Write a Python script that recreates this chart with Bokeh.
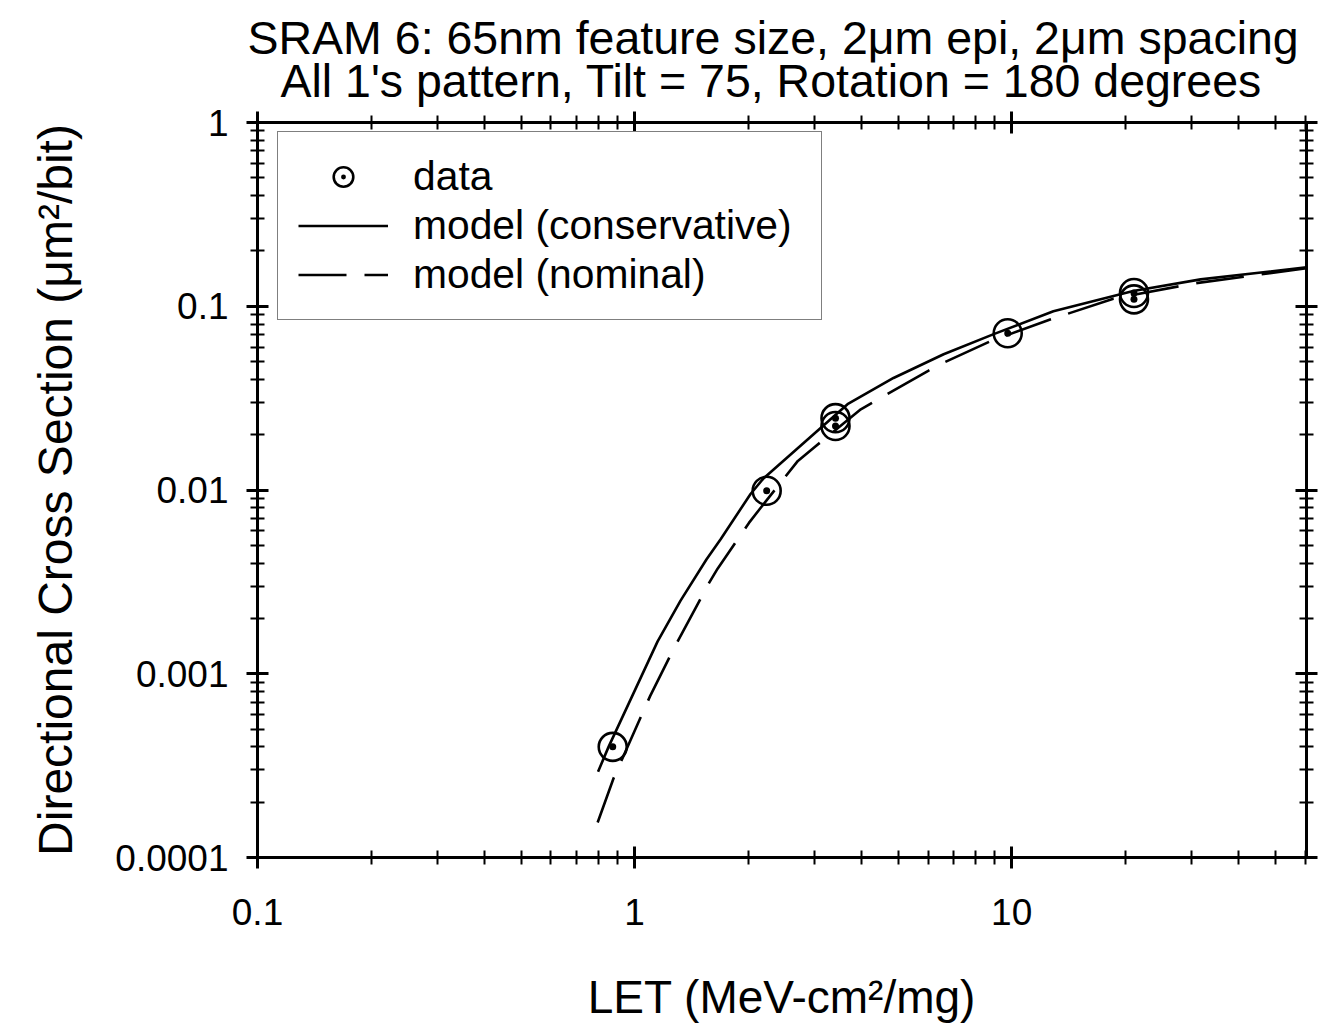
from bokeh.plotting import figure
from bokeh.models import (LogAxis, FixedTicker, Legend, LegendItem, Range1d,
                          CustomJSTickFormatter, Title)
from bokeh.embed import file_html
from bokeh.resources import INLINE

# ---- data ----
let_data = [0.875, 2.24, 3.41, 3.41, 9.76, 21.1, 21.1]
xs_data = [0.0004, 0.0099, 0.0246, 0.0223, 0.0713, 0.118, 0.109]

cons_let = [0.80, 0.853, 1.151, 1.324, 1.552, 1.691, 2.03, 2.20, 3.67,
            4.86, 6.60, 8.96, 12.9, 21.0, 31.7, 60.5]
cons_xs = [2.93e-4, 4.0e-4, 1.50e-3, 2.50e-3, 4.20e-3, 5.40e-3, 9.51e-3,
           0.0116, 0.0293, 0.0407, 0.0548, 0.0705, 0.0940, 0.121,
           0.140, 0.163]

nom_let = [0.798, 0.879, 1.10, 1.27, 1.57, 1.66, 2.01, 2.16, 2.71, 3.02, 3.98,
           4.44, 5.99, 6.56, 8.80, 12.7, 18.6, 30.4, 45.8, 60.5]
nom_xs = [1.55e-4, 2.69e-4, 7.58e-4, 1.37e-3, 3.08e-3, 3.73e-3, 6.62e-3,
          8.0e-3, 0.0144, 0.0173, 0.0275, 0.0313, 0.0444, 0.0490, 0.0646,
          0.0849, 0.110, 0.133, 0.149, 0.161]

x_major = [0.1, 1, 10]
x_major_labels = ["0.1", "1", "10"]
x_minor = [0.2, 0.3, 0.4, 0.5, 0.6, 0.7, 0.8, 0.9,
           2, 3, 4, 5, 6, 7, 8, 9, 20, 30, 40, 50, 60]
y_major = [0.0001, 0.001, 0.01, 0.1, 1]
y_major_labels = ["0.0001", "0.001", "0.01", "0.1", "1"]
y_minor = [m * d for d in [0.0001, 0.001, 0.01, 0.1] for m in [2, 3, 4, 5, 6, 7, 8, 9]]

title_lines = ["SRAM 6: 65nm feature size, 2\u03bcm epi, 2\u03bcm spacing",
               "All 1's pattern, Tilt = 75, Rotation = 180 degrees"]
x_label = "LET (MeV-cm\u00b2/mg)"
y_label = "Directional Cross Section (\u03bcm\u00b2/bit)"
legend_labels = ["data", "model (conservative)", "model (nominal)"]

FONT = "Liberation Sans"

p = figure(width=1318, height=1028, x_axis_type="log", y_axis_type="log",
           x_range=Range1d(0.1, 60.5), y_range=Range1d(1e-4, 1),
           output_backend="svg", toolbar_location=None,
           min_border_left=257, min_border_right=12,
           min_border_top=122, min_border_bottom=171)
p.grid.visible = False
p.outline_line_color = None
p.background_fill_color = "white"
p.border_fill_color = "white"
p.title.visible = False

bottom_ax = p.below[0]
left_ax = p.left[0]

xt = FixedTicker(ticks=x_major, minor_ticks=x_minor)
yt = FixedTicker(ticks=y_major, minor_ticks=y_minor)

top_ax = LogAxis(ticker=xt)
right_ax = LogAxis(ticker=yt)
p.add_layout(top_ax, "above")
p.add_layout(right_ax, "right")

t2 = Title(text=title_lines[1], align="left", offset=23, text_font=FONT,
           text_font_size="46.5px", text_font_style="normal", text_color="black",
           standoff=9)
t1 = Title(text=title_lines[0], align="left", offset=-10, text_font=FONT,
           text_font_size="46.5px", text_font_style="normal", text_color="black",
           standoff=0)
try:
    t1.standoff = -30
except Exception:
    pass
p.add_layout(t2, "above")
p.add_layout(t1, "above")

for ax in [bottom_ax, left_ax, top_ax, right_ax]:
    ax.axis_line_width = 3
    ax.axis_line_color = "black"
    ax.major_tick_line_width = 3
    ax.minor_tick_line_width = 2
    ax.major_tick_line_color = "black"
    ax.minor_tick_line_color = "black"
    ax.major_tick_in = 11
    ax.major_tick_out = 11
    ax.minor_tick_in = 7
    ax.minor_tick_out = 7
    ax.major_label_text_font = FONT
    ax.major_label_text_font_size = "37px"
    ax.major_label_text_color = "black"
    ax.axis_label_text_font = FONT
    ax.axis_label_text_font_size = "46px"
    ax.axis_label_text_font_style = "normal"
    ax.axis_label_text_color = "black"

for ax in [top_ax, right_ax]:
    ax.formatter = CustomJSTickFormatter(code="return ''")
    ax.major_label_standoff = 0

bottom_ax.ticker = xt
left_ax.ticker = yt
bottom_ax.major_label_overrides = dict(zip(x_major, x_major_labels))
left_ax.major_label_overrides = dict(zip(y_major, y_major_labels))
bottom_ax.axis_label = x_label
left_ax.axis_label = y_label
left_ax.axis_label_text_font_size = "48px"
bottom_ax.major_label_standoff = 30
left_ax.major_label_standoff = 18
bottom_ax.axis_label_standoff = 43
left_ax.axis_label_standoff = 30

r_cons = p.line(cons_let, cons_xs, line_color="black", line_width=2.6)
r_nom = p.line(nom_let, nom_xs, line_color="black", line_width=2.6,
               line_dash="48 18")
r_data = p.scatter(let_data, xs_data, marker="circle_dot", size=28,
                   line_color="black", line_width=2.6, fill_color=None)

legend = Legend(items=[LegendItem(label=legend_labels[0], renderers=[r_data]),
                       LegendItem(label=legend_labels[1], renderers=[r_cons]),
                       LegendItem(label=legend_labels[2], renderers=[r_nom])],
                location=(20, 537))
legend.border_line_color = "black"
legend.border_line_width = 1.5
legend.background_fill_color = "white"
legend.background_fill_alpha = 1
legend.padding = 20
legend.spacing = 0
legend.margin = 0
legend.glyph_width = 90
legend.glyph_height = 49
legend.label_height = 49
legend.label_width = 388
legend.label_standoff = 25
legend.label_text_font = FONT
legend.label_text_font_size = "40.8px"
legend.label_text_color = "black"
legend.label_text_baseline = "middle"
p.add_layout(legend, "center")

open("out.html", "w").write(file_html(p, INLINE))
